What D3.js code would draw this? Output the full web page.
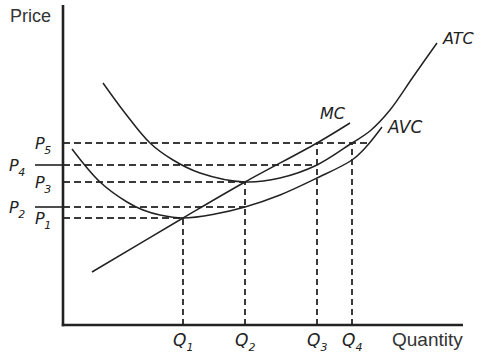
<!DOCTYPE html>
<html><head><meta charset="utf-8">
<script src="https://cdn.jsdelivr.net/npm/d3@7"></script>
<style>html,body{margin:0;padding:0;background:#fff;}svg{display:block;}</style>
</head><body>
<svg id="c" width="480" height="356"></svg>
<script>
// ---- data (arbitrary price / quantity units) ----
const mcQ  = [7.25, 30, 45.5, 63.5, 71.75];
const mcP  = [13.25, 26.75, 35.75, 45.5, 50.5];
const atcQ = [10, 15.5, 21.75, 27.5, 34.25, 45.5, 54.25, 63.5, 72.25, 76.75, 81.75, 87.5, 93.5];
const atcP = [60.5, 53, 45.5, 41.25, 38, 35.75, 36.75, 40, 45.5, 48.5, 53.75, 62, 70.5];
const avcQ = [2.25, 9.25, 16, 20, 24.25, 30, 38, 45.5, 54.25, 63.5, 72.25, 75.75, 79.75];
const avcP = [44, 35.75, 30.75, 28.75, 27.5, 26.75, 27.75, 29.5, 32.5, 36.75, 41.25, 44.5, 49.5];
const curveNames = ["MC", "ATC", "AVC"];
const priceLabels = ["P1", "P2", "P3", "P4", "P5"];
const priceValues = [26.75, 29.5, 35.75, 40, 45.5];
const priceLineEnds = [30, 45.5, 45.5, 63.5, 76.5];
const quantityLabels = ["Q1", "Q2", "Q3", "Q4"];
const quantityValues = [30, 45.5, 63.5, 72.25];
const quantityLineTops = [26.75, 35.75, 45.5, 45.5];
const axisTitles = ["Price", "Quantity"];

// ---- scales ----
const x = d3.scaleLinear().domain([0, 100]).range([63, 463]);
const y = d3.scaleLinear().domain([0, 80]).range([325, 5]);
const svg = d3.select("#c");
const ink = "#222";

// dashed guide lines
const hg = svg.append("g").attr("stroke", "#3a3a3a").attr("stroke-width", 2).attr("stroke-dasharray", "7,4");
priceValues.forEach((p, i) => {
  hg.append("line").attr("x1", x(0)).attr("x2", x(priceLineEnds[i])).attr("y1", y(p)).attr("y2", y(p));
});
const vg = svg.append("g").attr("stroke", "#3a3a3a").attr("stroke-width", 2).attr("stroke-dasharray", "6,4");
quantityValues.forEach((q, i) => {
  vg.append("line").attr("x1", x(q)).attr("x2", x(q)).attr("y1", y(0)).attr("y2", y(quantityLineTops[i]));
});

// curves
const line = d3.line().x(d => x(d[0])).y(d => y(d[1])).curve(d3.curveCatmullRom.alpha(0.5));
const series = [d3.zip(mcQ, mcP), d3.zip(atcQ, atcP), d3.zip(avcQ, avcP)];
svg.append("g").selectAll("path").data(series).join("path")
  .attr("d", line).attr("fill", "none").attr("stroke", ink).attr("stroke-width", 1.5);

// axes
svg.append("line").attr("x1", x(0)).attr("x2", x(0)).attr("y1", y(80)).attr("y2", y(0) + 1.2)
  .attr("stroke", ink).attr("stroke-width", 2.6);
svg.append("line").attr("x1", x(0) - 1.2).attr("x2", x(100)).attr("y1", y(0)).attr("y2", y(0))
  .attr("stroke", ink).attr("stroke-width", 2.6);

// price labels
const lab = svg.append("g").attr("font-family", "DejaVu Sans, Verdana, sans-serif").attr("font-style", "italic").attr("fill", ink);
priceValues.forEach((p, i) => {
  const outer = (i === 1 || i === 3);
  if (outer) {
    svg.append("line").attr("x1", 35).attr("x2", x(0)).attr("y1", y(p)).attr("y2", y(p))
      .attr("stroke", ink).attr("stroke-width", 1.6);
  }
  const t = lab.append("text").attr("x", outer ? 9 : 35).attr("y", y(p) + 6).attr("font-size", 16);
  t.append("tspan").text(priceLabels[i][0]);
  t.append("tspan").attr("font-size", 11).attr("dy", 5).attr("dx", -0.5).text(priceLabels[i].slice(1));
});
quantityValues.forEach((q, i) => {
  const t = lab.append("text").attr("x", x(q) - 10).attr("y", 346).attr("font-size", 17);
  t.append("tspan").text(quantityLabels[i][0]);
  t.append("tspan").attr("font-size", 11).attr("dy", 5).attr("dx", 0).text(quantityLabels[i].slice(1));
});

// curve labels
const curveLabelAt = [[mcQ[4], mcP[4]], [atcQ[12], atcP[12]], [avcQ[12], avcP[12]]];
const curveLabelOff = [[-30, -4], [6, 1], [6, 6]];
curveNames.forEach((n, i) => {
  lab.append("text").attr("x", x(curveLabelAt[i][0]) + curveLabelOff[i][0])
    .attr("y", y(curveLabelAt[i][1]) + curveLabelOff[i][1])
    .attr("font-size", n === "AVC" ? 17 : 16).text(n);
});

// axis titles
svg.append("text").attr("x", 10).attr("y", 22).attr("font-family", "Liberation Sans, Arial, sans-serif")
  .attr("font-size", 18).attr("fill", "#333").text(axisTitles[0]);
svg.append("text").attr("x", 392).attr("y", 346).attr("font-family", "Liberation Sans, Arial, sans-serif")
  .attr("font-size", 19).attr("fill", "#333").text(axisTitles[1]);
</script>
</body></html>
